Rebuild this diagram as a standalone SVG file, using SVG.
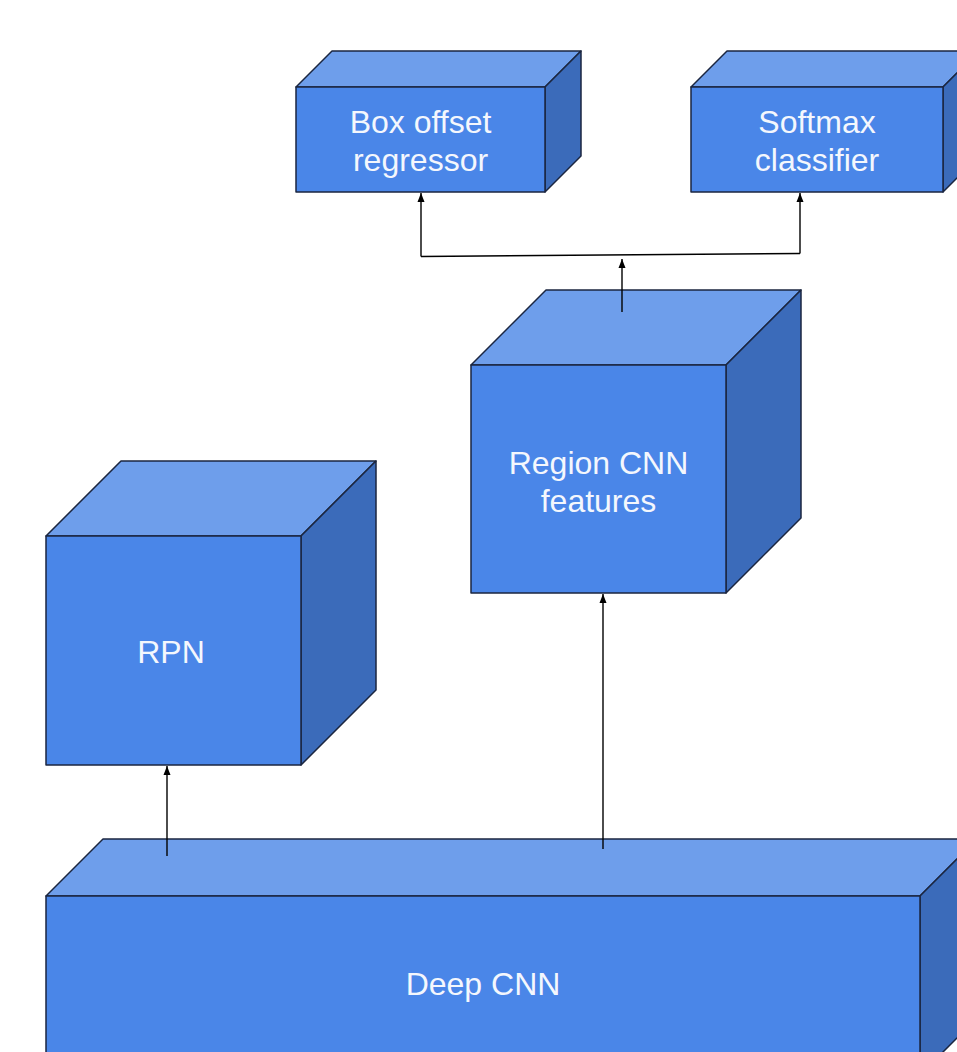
<svg xmlns="http://www.w3.org/2000/svg" width="957" height="1052" viewBox="0 0 957 1052">
<style>
.front{fill:#4a86e8;stroke:#1b2640;stroke-width:1.5;stroke-linejoin:round}
.top{fill:#6e9eeb;stroke:#1b2640;stroke-width:1.5;stroke-linejoin:round}
.side{fill:#3b6bba;stroke:#1b2640;stroke-width:1.5;stroke-linejoin:round}
.lbl{font-family:"Liberation Sans",Arial,sans-serif;font-size:32px;fill:#f4f7fd;text-anchor:middle}
.conn{fill:none;stroke:#000;stroke-width:1.4}
</style>
<defs>
<marker id="arr" markerUnits="userSpaceOnUse" markerWidth="10" markerHeight="8" refX="9" refY="4" orient="auto">
<path d="M0,0.5 L9,4 L0,7.5 z" fill="#000"/>
</marker>
</defs>
<rect width="957" height="1052" fill="#fff"/>

<g id="box-offset-regressor">
<polygon class="top" points="296,87 332,51 581,51 545,87"/>
<polygon class="side" points="545,87 581,51 581,156 545,192"/>
<rect class="front" x="296" y="87" width="249" height="105"/>
<text class="lbl" x="420.5" y="133">Box offset</text>
<text class="lbl" x="420.5" y="171">regressor</text>
</g>

<g id="softmax-classifier">
<polygon class="top" points="691,87 727,51 979,51 943,87"/>
<polygon class="side" points="943,87 979,51 979,156 943,192"/>
<rect class="front" x="691" y="87" width="252" height="105"/>
<text class="lbl" x="817" y="133">Softmax</text>
<text class="lbl" x="817" y="171">classifier</text>
</g>

<g id="region-cnn-features">
<polygon class="top" points="471,365 546,290 801,290 726,365"/>
<polygon class="side" points="726,365 801,290 801,518 726,593"/>
<rect class="front" x="471" y="365" width="255" height="228"/>
<text class="lbl" x="598.5" y="474">Region CNN</text>
<text class="lbl" x="598.5" y="512">features</text>
</g>

<g id="rpn">
<polygon class="top" points="46,536 121,461 376,461 301,536"/>
<polygon class="side" points="301,536 376,461 376,690 301,765"/>
<rect class="front" x="46" y="536" width="255" height="229"/>
<text class="lbl" x="171" y="663">RPN</text>
</g>

<g id="deep-cnn">
<polygon class="top" points="46,896 103,839 977,839 920,896"/>
<polygon class="side" points="920,896 977,839 977,1018 920,1075"/>
<rect class="front" x="46" y="896" width="874" height="179"/>
<text class="lbl" x="483" y="995">Deep CNN</text>
</g>

<g id="connectors">
<path class="conn" d="M167,856 L167,766" marker-end="url(#arr)"/>
<path class="conn" d="M603,849 L603,594" marker-end="url(#arr)"/>
<path class="conn" d="M622,312 L622,259" marker-end="url(#arr)"/>
<path class="conn" d="M421,256.5 L800,253.5"/>
<path class="conn" d="M421,256.5 L421,193" marker-end="url(#arr)"/>
<path class="conn" d="M800,253.5 L800,193" marker-end="url(#arr)"/>
</g>
</svg>
